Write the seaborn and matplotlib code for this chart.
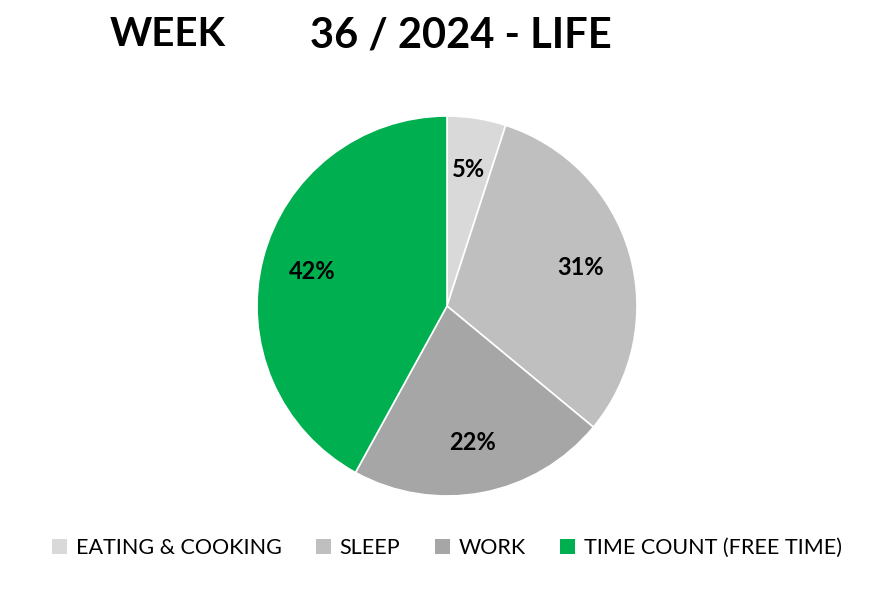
import matplotlib
matplotlib.use("Agg")
import matplotlib.pyplot as plt
import seaborn as sns
from matplotlib.patches import Patch

categories = ["EATING & COOKING", "SLEEP", "WORK", "TIME COUNT (FREE TIME)"]
shares = [5, 31, 22, 42]
colors = ["#D9D9D9", "#BFBFBF", "#A6A6A6", "#00B050"]
title_left = "WEEK"
title_right = "36 / 2024 - LIFE"

sns.set_theme(style="white")
plt.rcParams["font.family"] = ["Lato", "DejaVu Sans"]
plt.rcParams["text.color"] = "black"

W, H = 894, 600
fig = plt.figure(figsize=(W / 100, H / 100), dpi=100)
cx, cy, r = 447, 306, 190
ax = fig.add_axes([(cx - r) / W, (H - cy - r) / H, 2 * r / W, 2 * r / H])

wedges, texts, autotexts = ax.pie(
    shares, colors=colors, startangle=90, counterclock=False,
    autopct=lambda p: f"{p:.0f}%", pctdistance=0.73,
    wedgeprops=dict(edgecolor="white", linewidth=1.2),
    textprops=dict(fontsize=17, fontweight="bold", color="black"),
)
ax.set_xlim(-1, 1)
ax.set_ylim(-1, 1)
ax.set_aspect("equal")

fig.text(110 / W, 1 - 35 / H, title_left, fontsize=29, fontweight="bold",
         va="center", ha="left", color="black")
fig.text(310 / W, 1 - 35 / H, title_right, fontsize=30, fontweight="bold",
         va="center", ha="left", color="black")

handles = [Patch(facecolor=c, edgecolor="none") for c in colors]
fig.legend(handles, categories, loc="center", bbox_to_anchor=(0.5, 1 - 548 / H),
           ncol=4, frameon=False, fontsize=15.5, handlelength=0.7, handleheight=0.7,
           handletextpad=0.4, columnspacing=1.6, labelcolor="black")

fig.savefig("out.png", dpi=100)
